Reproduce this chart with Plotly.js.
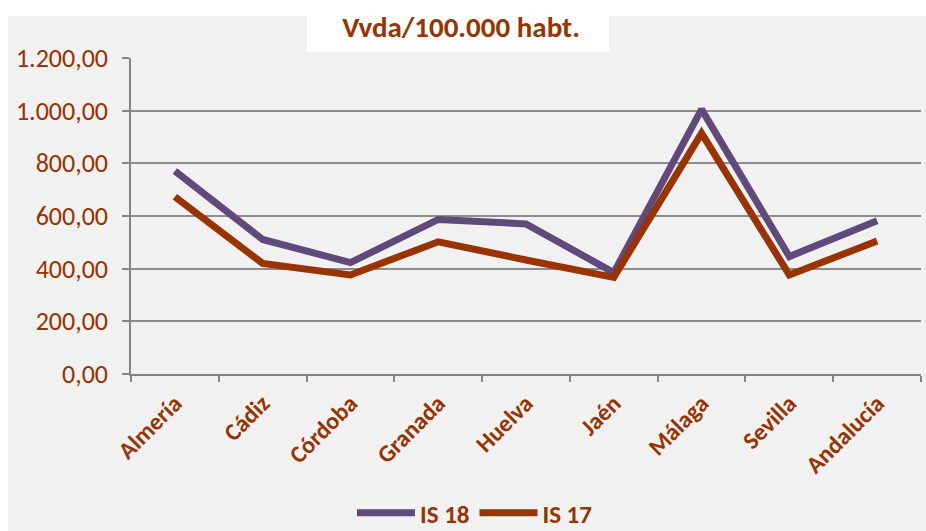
<!DOCTYPE html>
<html><head><meta charset="utf-8">
<script src="https://cdn.plot.ly/plotly-3.0.1.min.js"></script>
<style>html,body{margin:0;padding:0;background:#ffffff;}#chart{width:926px;height:531px;}</style>
</head><body><div id="chart"></div>
<script>
const categories = ["Almería","Cádiz","Córdoba","Granada","Huelva","Jaén","Málaga","Sevilla","Andalucía"];
const is18 = [771, 511, 423, 587, 570, 385, 1005, 446, 582];
const is17 = [673, 420, 376, 502, 433, 367, 914, 376, 505];
const seriesNames = ["IS 18","IS 17"];
const titleText = "Vvda/100.000 habt.";

const brown = "#993300";
const FONT = "Carlito, Lato, sans-serif";
const px = v => (v - 131) / 790;
const py = v => (374 - v) / 316;

const traces = [
  {x: categories, y: is18, name: seriesNames[0], type: "scatter", mode: "lines",
   line: {color: "#604a7b", width: 7}},
  {x: categories, y: is17, name: seriesNames[1], type: "scatter", mode: "lines",
   line: {color: brown, width: 7}}
];

const layout = {
  width: 926, height: 531,
  paper_bgcolor: "#ffffff", plot_bgcolor: "#ffff99",
  margin: {l: 131, r: 5, t: 58, b: 157, autoexpand: false},
  separators: ",.",
  font: {family: FONT, color: brown},
  title: {text: "<b>" + titleText + "</b>", font: {family: FONT, size: 29, color: brown},
          x: 461/926, xanchor: "center", xref: "container", y: 1 - 27/531, yanchor: "middle", yref: "container"},
  shapes: [
    {type: "rect", xref: "paper", yref: "paper", layer: "below",
     x0: px(8), x1: px(926), y0: py(531), y1: py(16),
     fillcolor: "#f1f1f1", line: {width: 0}},
    {type: "rect", xref: "paper", yref: "paper", layer: "below",
     x0: px(307), x1: px(609), y0: py(52), y1: py(0),
     fillcolor: "#ffffff", line: {width: 0}}
  ],
  xaxis: {type: "category", range: [-0.5, 8.5], tickson: "boundaries", automargin: false,
          ticks: "outside", ticklen: 6, tickcolor: "#868686", tickwidth: 1.5,
          showline: true, linecolor: "#868686", linewidth: 1.5, showgrid: false,
          ticklabelstandoff: 4,
          tickangle: -45, tickfont: {family: FONT, size: 24, color: brown, weight: "bold"}},
  yaxis: {range: [0, 1200], dtick: 200, tickformat: ",.2f", automargin: false,
          ticks: "outside", ticklen: 7, tickcolor: "#868686", tickwidth: 1.5,
          showline: true, linecolor: "#868686", linewidth: 1.5,
          gridcolor: "#8c8c8c", gridwidth: 1.5, zeroline: false,
          ticklabelstandoff: 9,
          tickfont: {family: FONT, size: 26, color: brown}},
  showlegend: true,
  legend: {orientation: "h", x: px(475), xanchor: "center", y: py(513), yanchor: "middle",
           itemwidth: 58, font: {family: FONT, size: 25, color: brown, weight: "bold"}, bgcolor: "rgba(0,0,0,0)"}
};

Plotly.newPlot("chart", traces, layout, {displayModeBar: false});
</script></body></html>
